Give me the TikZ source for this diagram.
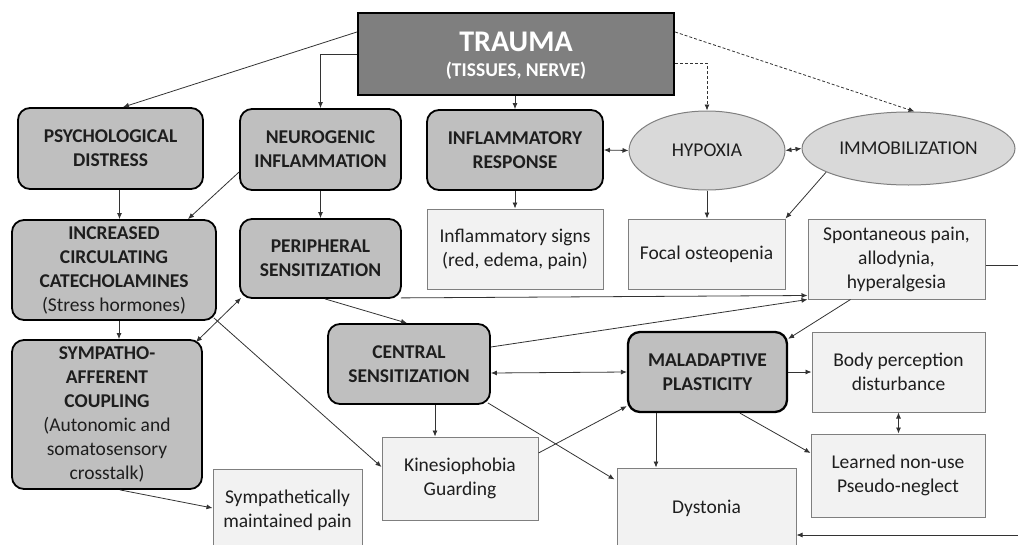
\documentclass[tikz,border=0pt]{standalone}
\usepackage{fontspec}
\setmainfont{Carlito}
\usetikzlibrary{shapes.geometric,arrows.meta,calc}
\definecolor{dk}{HTML}{BFBFBF}
\definecolor{tr}{HTML}{7F7F7F}
\definecolor{lt}{HTML}{F2F2F2}
\definecolor{ov}{HTML}{D9D9D9}
\definecolor{bd}{HTML}{7F7F7F}
\definecolor{ln}{HTML}{333333}
\definecolor{tx}{HTML}{1E1E1E}
\begin{document}
\begin{tikzpicture}[x=1pt,y=-1pt,
  sz/.style 2 args={minimum width=#1, minimum height=#2},
  txt/.style={font=\fontsize{19.5}{24}\selectfont, text=tx, align=center, inner sep=0pt},
  hdr/.style={txt, rectangle, rounded corners=12pt, draw=black, line width=1.8pt, fill=dk, font=\fontsize{19.5}{24}\selectfont\bfseries},
  lbox/.style={txt, rectangle, draw=bd, line width=1pt, fill=lt},
  oval/.style={txt, ellipse, draw=bd, line width=1pt, fill=ov},
  traumabox/.style={rectangle, draw=black, line width=2.2pt, fill=tr, text=white, align=center, inner sep=0pt, text depth=0pt, font=\fontsize{30}{23}\selectfont\bfseries},
  conn/.style={draw=ln, line width=0.8pt, -{Latex[length=6pt,width=5pt]}},
  dbl/.style={draw=ln, line width=0.8pt, {Latex[length=6pt,width=5pt]}-{Latex[length=6pt,width=5pt]}},
  dsh/.style={conn, dash pattern=on 3pt off 2pt}
]
\useasboundingbox (0,0) rectangle (1018,544);
\clip (0,0) rectangle (1018,544);

% nodes
\node[traumabox, sz={316}{82}] (trauma) at (516,54) {TRAUMA\\[2pt]{\fontsize{19.5}{23}\selectfont (TISSUES, NERVE)}};
\node[hdr, sz={185}{81}] (psych) at (110.5,148.5) {PSYCHOLOGICAL\\DISTRESS};
\node[hdr, sz={161}{81}] (neuro) at (320.5,149.5) {NEUROGENIC\\INFLAMMATION};
\node[hdr, sz={176}{80}] (inflresp) at (515,150) {INFLAMMATORY\\RESPONSE};
\node[oval, sz={156}{79}] (hypoxia) at (707,150.5) {HYPOXIA};
\node[oval, sz={213}{73}] (immob) at (908.5,148.5) {IMMOBILIZATION};
\node[hdr, sz={204}{100}] (catechol) at (114,270) {INCREASED\\CIRCULATING\\CATECHOLAMINES\\{\mdseries (Stress hormones)}};
\node[hdr, sz={161}{79}] (periph) at (320.5,258.5) {PERIPHERAL\\SENSITIZATION};
\node[lbox, sz={176}{80}] (inflsigns) at (515,249) {Inflammatory signs\\(red, edema, pain)};
\node[lbox, sz={157}{70}] (focal) at (706.5,254) {Focal osteopenia};
\node[lbox, sz={177}{80}] (spont) at (896.5,259) {Spontaneous pain,\\allodynia,\\hyperalgesia};
\node[hdr, sz={190}{149}] (sympatho) at (107,414.5) {SYMPATHO-\\AFFERENT\\COUPLING\\{\mdseries (Autonomic and}\\{\mdseries somatosensory}\\{\mdseries crosstalk)}};
\node[hdr, sz={162}{80}] (central) at (409,364) {CENTRAL\\SENSITIZATION};
\node[hdr, sz={159}{80}, line width=2.3pt] (malad) at (707.5,372) {MALADAPTIVE\\PLASTICITY};
\node[lbox, sz={173}{80}] (body) at (898.5,372) {Body perception\\disturbance};
\node[lbox, sz={174}{83}] (learned) at (898,475.5) {Learned non-use\\Pseudo-neglect};
\node[lbox, sz={179}{80}] (dyst) at (706.5,508) {Dystonia};
\node[lbox, sz={156}{83}] (kines) at (460,478.5) {Kinesiophobia\\Guarding};
\node[lbox, sz={149}{82}] (symppain) at (287.5,510) {Sympathetically\\maintained pain};

% connectors
\draw[conn] ($(trauma.west)+(0,-22)$) -- ($(psych.north)+(12.5,0)$);
\draw[conn] (trauma.west) -| (neuro.north);
\draw[conn] (inflresp.north |- trauma.south) -- (inflresp.north);
\draw[dsh] ($(trauma.east)+(0,9)$) -| (hypoxia.north);
\draw[dsh] ($(trauma.east)+(0,-22)$) -- ($(immob.north)+(6,0)$);
\draw[dbl] (inflresp.east) -- (hypoxia.west);
\draw[dbl] (hypoxia.east) -- (immob.west);
\coordinate (a8) at ($(psych.south)+(9,0)$);
\draw[conn] (a8) -- (a8 |- catechol.north);
\draw[conn] ($(neuro.west)+(0,22.5)$) -- ($(catechol.north)+(74,0)$);
\draw[conn] (neuro.south) -- (periph.north);
\draw[conn] (inflresp.south) -- (inflsigns.north);
\draw[conn] (hypoxia.south) -- (hypoxia.south |- focal.north);
\draw[conn] (immob.196) -- (focal.north east);
\draw[conn] ($(periph.south east)+(-1,-1)$) -- ($(spont.south west)+(0,-4)$);
\draw[conn] ($(central.east)+(0,-17)$) -- (spont.south west);
\draw[conn] ($(spont.south)+(-46,0)$) -- ($(malad.north east)+(0,8)$);
\draw[dbl] ($(central.east)+(0,9)$) -- (malad.west);
\draw[conn] (malad.east) -- (body.west);
\draw[dbl] (body.south) -- (body.south |- learned.north);
\draw[conn] ($(malad.south)+(32.5,0)$) -- ($(learned.west)+(0,-22.5)$);
\coordinate (a21) at ($(malad.south)+(-51.5,0)$);
\draw[conn] (a21) -- (a21 |- dyst.north);
\draw[conn] ($(kines.east)+(0,-25.5)$) -- ($(malad.south west)+(0,-7)$);
\draw[conn] ($(central.south east)+(-3,-2)$) -- ($(dyst.north west)+(-2,12)$);
\draw[conn] ($(catechol.south east)+(-3,-3)$) -- ($(kines.west)+(0,-11.5)$);
\coordinate (a25) at ($(catechol.south)+(5,0)$);
\draw[conn] (a25) -- (a25 |- sympatho.north);
\draw[dbl] ($(sympatho.north east)+(-7,3)$) -- ($(periph.south west)+(2,-1)$);
\draw[conn] ($(sympatho.south)+(13,0)$) -- ($(symppain.west)+(0,-2)$);
\draw[conn] ($(periph.south)+(4.5,0)$) -- ($(central.north)+(-2,0)$);
\coordinate (a29) at ($(central.south)+(26,0)$);
\draw[conn] (a29) -- (a29 |- kines.north);
\coordinate (r1) at (1040,265);
\coordinate (r2) at (1040,535);
\draw[conn] ($(spont.east)+(0,6)$) -- (r1) -- (r2) -- (r2 -| dyst.east);
\end{tikzpicture}
\end{document}
